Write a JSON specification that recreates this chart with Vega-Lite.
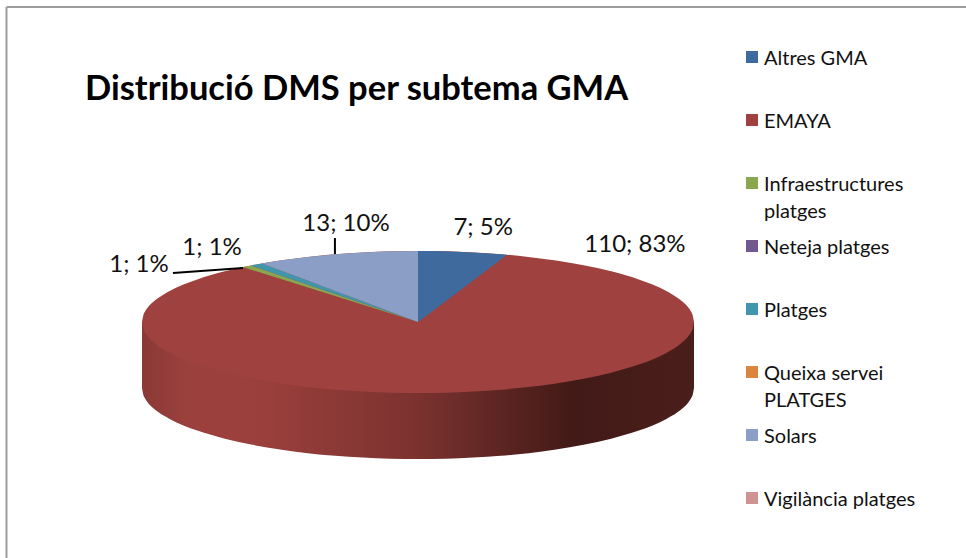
{
"$schema":"https://vega.github.io/schema/vega-lite/v6.json",
"width":966,"height":558,"padding":0,"autosize":{"type":"none"},
"background":"white",
"config":{"view":{"stroke":null},"font":"Lato","style":{"guide-label":{"dy":-8,"lineHeight":27}}},
"title":{"text":"Distribució DMS per subtema GMA","font":"Lato","fontSize":34.5,"fontWeight":"bold","color":"#000000","anchor":"start","frame":"group","orient":"top","offset":-107,"dx":85},
"datasets":{
"slices":[
{"slice":"Altres GMA","count":7,"label":"7; 5%","lx":23.6,"ly":132.4},
{"slice":"EMAYA","count":110,"label":"110; 83%","lx":78.6,"ly":108.5},
{"slice":"Infraestructures platges","count":1,"label":"1; 1%","lx":-101.1,"ly":80.3},
{"slice":"Neteja platges","count":0,"label":"","lx":0,"ly":0},
{"slice":"Platges","count":1,"label":"1; 1%","lx":-74.6,"ly":104.2},
{"slice":"Queixa servei PLATGES","count":0,"label":"","lx":0,"ly":0},
{"slice":"Solars","count":13,"label":"13; 10%","lx":-26.1,"ly":138},
{"slice":"Vigilància platges","count":0,"label":"","lx":0,"ly":0}
],
"rim":[
{"x":-100,"top":0,"bottom":0,"side":-93},{"x":-99.5,"top":10,"bottom":-10,"side":-103},{"x":-99,"top":14.1,"bottom":-14.1,"side":-107.1},{"x":-98,"top":19.9,"bottom":-19.9,"side":-112.9},{"x":-96,"top":28,"bottom":-28,"side":-121},{"x":-94,"top":34.1,"bottom":-34.1,"side":-127.1},{"x":-92,"top":39.2,"bottom":-39.2,"side":-132.2},{"x":-90,"top":43.6,"bottom":-43.6,"side":-136.6},{"x":-85,"top":52.7,"bottom":-52.7,"side":-145.7},{"x":-80,"top":60,"bottom":-60,"side":-153},{"x":-70,"top":71.4,"bottom":-71.4,"side":-164.4},{"x":-60,"top":80,"bottom":-80,"side":-173},{"x":-50,"top":86.6,"bottom":-86.6,"side":-179.6},{"x":-40,"top":91.7,"bottom":-91.7,"side":-184.7},{"x":-30,"top":95.4,"bottom":-95.4,"side":-188.4},{"x":-20,"top":98,"bottom":-98,"side":-191},{"x":-10,"top":99.5,"bottom":-99.5,"side":-192.5},{"x":0,"top":100,"bottom":-100,"side":-193},
{"x":10,"top":99.5,"bottom":-99.5,"side":-192.5},{"x":20,"top":98,"bottom":-98,"side":-191},{"x":30,"top":95.4,"bottom":-95.4,"side":-188.4},{"x":40,"top":91.7,"bottom":-91.7,"side":-184.7},{"x":50,"top":86.6,"bottom":-86.6,"side":-179.6},{"x":60,"top":80,"bottom":-80,"side":-173},{"x":70,"top":71.4,"bottom":-71.4,"side":-164.4},{"x":80,"top":60,"bottom":-60,"side":-153},{"x":85,"top":52.7,"bottom":-52.7,"side":-145.7},{"x":90,"top":43.6,"bottom":-43.6,"side":-136.6},{"x":92,"top":39.2,"bottom":-39.2,"side":-132.2},{"x":94,"top":34.1,"bottom":-34.1,"side":-127.1},{"x":96,"top":28,"bottom":-28,"side":-121},{"x":98,"top":19.9,"bottom":-19.9,"side":-112.9},{"x":99,"top":14.1,"bottom":-14.1,"side":-107.1},{"x":99.5,"top":10,"bottom":-10,"side":-103},{"x":100,"top":0,"bottom":0,"side":-93}
],
"wedges":[
{"slice":"Altres GMA","x":0,"y":100,"y2":0},{"slice":"Altres GMA","x":5,"y":99.9,"y2":14.6},{"slice":"Altres GMA","x":10,"y":99.5,"y2":29.3},{"slice":"Altres GMA","x":20,"y":98,"y2":58.6},{"slice":"Altres GMA","x":30,"y":95.4,"y2":87.9},{"slice":"Altres GMA","x":32.3,"y":94.6,"y2":94.6},
{"slice":"Infraestructures platges","x":-63.4,"y":77.3,"y2":77.3},{"slice":"Infraestructures platges","x":-62,"y":78.5,"y2":75.6},{"slice":"Infraestructures platges","x":-60.5,"y":79.6,"y2":73.7},{"slice":"Infraestructures platges","x":0,"y":0,"y2":0},
{"slice":"Platges","x":-60.5,"y":79.6,"y2":79.6},{"slice":"Platges","x":-58.5,"y":81.1,"y2":77},{"slice":"Platges","x":-56.5,"y":82.5,"y2":74.4},{"slice":"Platges","x":0,"y":0,"y2":0},
{"slice":"Solars","x":-56.5,"y":82.5,"y2":82.5},{"slice":"Solars","x":-50,"y":86.6,"y2":73},{"slice":"Solars","x":-40,"y":91.7,"y2":58.4},{"slice":"Solars","x":-30,"y":95.4,"y2":43.8},{"slice":"Solars","x":-20,"y":98,"y2":29.2},{"slice":"Solars","x":-10,"y":99.5,"y2":14.6},{"slice":"Solars","x":0,"y":100,"y2":0}
],
"leaders":[
{"leader":"a","x":-88.8,"y":69},{"leader":"a","x":-63.4,"y":76.1},
{"leader":"b","x":-30.1,"y":118.3},{"leader":"b","x":-30.1,"y":95.8}
],
"frame":[
{"edge":"top","x":-149.1,"y":443.7},{"edge":"top","x":198.55,"y":443.7},
{"edge":"left","x":-149.1,"y":443.7},{"edge":"left","x":-149.1,"y":-332.4}
]
},
"encoding":{
"x":{"field":"x","type":"quantitative","scale":{"domain":[-151.45,198.55]},"axis":null},
"y":{"field":"y","type":"quantitative","scale":{"domain":[-332.4,453.5]},"axis":null}
},
"layer":[
{"data":{"name":"frame"},"mark":{"type":"line","stroke":"#9c9c9c","strokeWidth":2,"clip":true},"encoding":{"detail":{"field":"edge"},"order":{"field":"y"}}},
{"data":{"name":"rim"},"mark":{"type":"area","interpolate":"monotone","fill":{"gradient":"linear","x1":0,"x2":1,"y1":0,"y2":0,"stops":[{"offset":0,"color":"#8a3936"},{"offset":0.08,"color":"#9a403d"},{"offset":0.2,"color":"#9c403d"},{"offset":0.5,"color":"#7b322f"},{"offset":0.78,"color":"#421a17"},{"offset":1,"color":"#4a1e1b"}]}},
"encoding":{"y":{"field":"side","type":"quantitative"},"y2":{"datum":0}}},
{"data":{"name":"rim"},"transform":[{"calculate":"'EMAYA'","as":"slice"}],"mark":{"type":"area","interpolate":"monotone"},
"encoding":{"y":{"field":"top","type":"quantitative"},"y2":{"field":"bottom"},"color":{"field":"slice","type":"nominal"}}},
{"data":{"name":"wedges"},"mark":{"type":"area"},
"encoding":{"y2":{"field":"y2"},
"color":{"field":"slice","type":"nominal",
"scale":{"domain":["Altres GMA","EMAYA","Infraestructures platges","Neteja platges","Platges","Queixa servei PLATGES","Solars","Vigilància platges"],"range":["#3f6a9e","#9f423f","#8aa64e","#71588f","#3f96ad","#db843d","#8b9fc6","#d19392"]},
"legend":{"title":null,"orient":"none","legendX":742,"legendY":47,"padding":0,"columns":1,"gridAlign":"all","rowPadding":14,"symbolType":"square","symbolSize":144,"symbolStrokeWidth":0,"labelFont":"Lato","labelFontSize":20,"labelColor":"#111111","labelOffset":2,"labelBaseline":"top","labelLimit":300,"labelExpr":"datum.label=='Infraestructures platges'?['Infraestructures','platges']:datum.label=='Queixa servei PLATGES'?['Queixa servei','PLATGES']:datum.label"}}}},
{"data":{"name":"leaders"},"mark":{"type":"line","stroke":"#000000","strokeWidth":2},"encoding":{"detail":{"field":"leader"},"order":{"field":"y"}}},
{"data":{"name":"slices"},"transform":[{"filter":"datum.count>0"}],"mark":{"type":"text","font":"Lato","fontSize":24,"color":"#111111"},
"encoding":{"x":{"field":"lx","type":"quantitative"},"y":{"field":"ly","type":"quantitative"},"text":{"field":"label"}}}
]
}
